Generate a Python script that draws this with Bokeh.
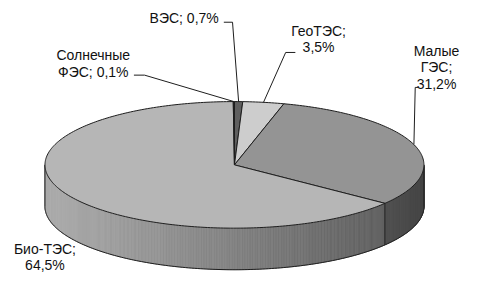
import numpy as np
from bokeh.plotting import figure
from bokeh.models import Range1d
from bokeh.embed import file_html
from bokeh.resources import INLINE
from bokeh.core.properties import value

# ---------------- data ----------------
names = ["ВЭС", "ГеоТЭС", "Малые ГЭС", "Био-ТЭС", "Солнечные ФЭС"]
shares = [0.7, 3.5, 31.2, 64.5, 0.1]
label_lines = [
    ["ВЭС; 0,7%"],
    ["ГеоТЭС;", "3,5%"],
    ["Малые", "ГЭС;", "31,2%"],
    ["Био-ТЭС;", "64,5%"],
    ["Солнечные", "ФЭС; 0,1%"],
]

# ---------------- style ----------------
top_gray = [95, 205, 148, 182, 70]
FONT = "Liberation Sans"
FONT_SIZE = "14px"
EDGE = "#1e1e1e"

# ---------------- layout (pixel space of the reference picture) ----------------
CX, CY, A, B, DEPTH = 242.0, 174.0, 196.0, 67.0, 44.0
label_pos = [(190, 18.5), (329, 32), (451, 53), (46, 263), (96, 58)]
LINE_H = 17.5
leader_elbows = [
    [(231, 23), (240, 23)],
    [(305, 55), (295, 55)],
    [(432, 92), (429, 92)],
    None,
    [(138, 79), (149, 79)],
]


def gray(g):
    g = int(max(0, min(255, round(g))))
    return "#%02x%02x%02x" % (g, g, g)


def pt(t, dy=0.0):
    return CX + A * np.sin(t), CY - B * np.cos(t) + dy


def shade(t):
    return 0.95 - 0.24 * (1 + np.sin(t))


p = figure(width=465, height=273, x_range=Range1d(0, 481), y_range=Range1d(289, 0),
           output_backend="svg", toolbar_location=None, min_border=0,
           x_axis_type=None, y_axis_type=None, outline_line_color=None,
           background_fill_color="white", border_fill_color="white")
p.grid.visible = False

cum = np.concatenate([[0.0], np.cumsum(shares)]) / 100.0 * 2 * np.pi

# ---- side walls (front half, gradient strips) ----
sx, sy, sc = [], [], []
for i in range(len(shares)):
    lo = max(cum[i], np.pi / 2)
    hi = min(cum[i + 1], 3 * np.pi / 2)
    if lo >= hi:
        continue
    n = max(1, int(np.ceil(np.degrees(hi - lo) / 0.5)))
    ts = np.linspace(lo, hi, n + 1)
    for ta, tb in zip(ts[:-1], ts[1:]):
        xa, ya = pt(ta)
        xb, yb = pt(tb)
        xc, yc = pt(tb, DEPTH)
        xd, yd = pt(ta, DEPTH)
        sx.append([xa, xb, xc, xd])
        sy.append([ya, yb, yc, yd])
        sc.append(gray(top_gray[i] * shade((ta + tb) / 2)))
p.patches(sx, sy, fill_color=sc, line_color=sc, line_width=0.7)

# bottom outline and vertical edges of the wall
tb_ = np.linspace(np.pi / 2, 3 * np.pi / 2, 200)
bx, by = pt(tb_, DEPTH)
p.line(bx, by, line_color=EDGE, line_width=1)
for t in [np.pi / 2, 3 * np.pi / 2] + [c for c in cum if np.pi / 2 < c < 3 * np.pi / 2]:
    x0, y0 = pt(t)
    x1, y1 = pt(t, DEPTH)
    p.line([x0, x1], [y0, y1], line_color=EDGE, line_width=1)

# ---- top faces ----
txs, tys, tcs = [], [], []
for i in range(len(shares)):
    n = max(2, int(np.degrees(cum[i + 1] - cum[i])) + 2)
    ts = np.linspace(cum[i], cum[i + 1], n)
    ex, ey = pt(ts)
    txs.append([CX] + list(ex) + [CX])
    tys.append([CY] + list(ey) + [CY])
    tcs.append(gray(top_gray[i]))
p.patches(txs, tys, fill_color=tcs, line_color=EDGE, line_width=1)

# ---- labels and leader lines ----
for i, lines in enumerate(label_lines):
    lx, ly = label_pos[i]
    ys = [ly + k * LINE_H for k in range(len(lines))]
    p.text(x=[lx] * len(lines), y=ys, text=lines, text_align="center",
           text_baseline="middle", text_font=value(FONT),
           text_font_size=FONT_SIZE, text_color="#111111")
    if leader_elbows[i] is not None:
        ax, ay = pt((cum[i] + cum[i + 1]) / 2)
        pts = leader_elbows[i] + [(ax, ay)]
        p.line([q[0] for q in pts], [q[1] for q in pts], line_color=EDGE, line_width=1)

open("out.html", "w").write(file_html(p, INLINE))
